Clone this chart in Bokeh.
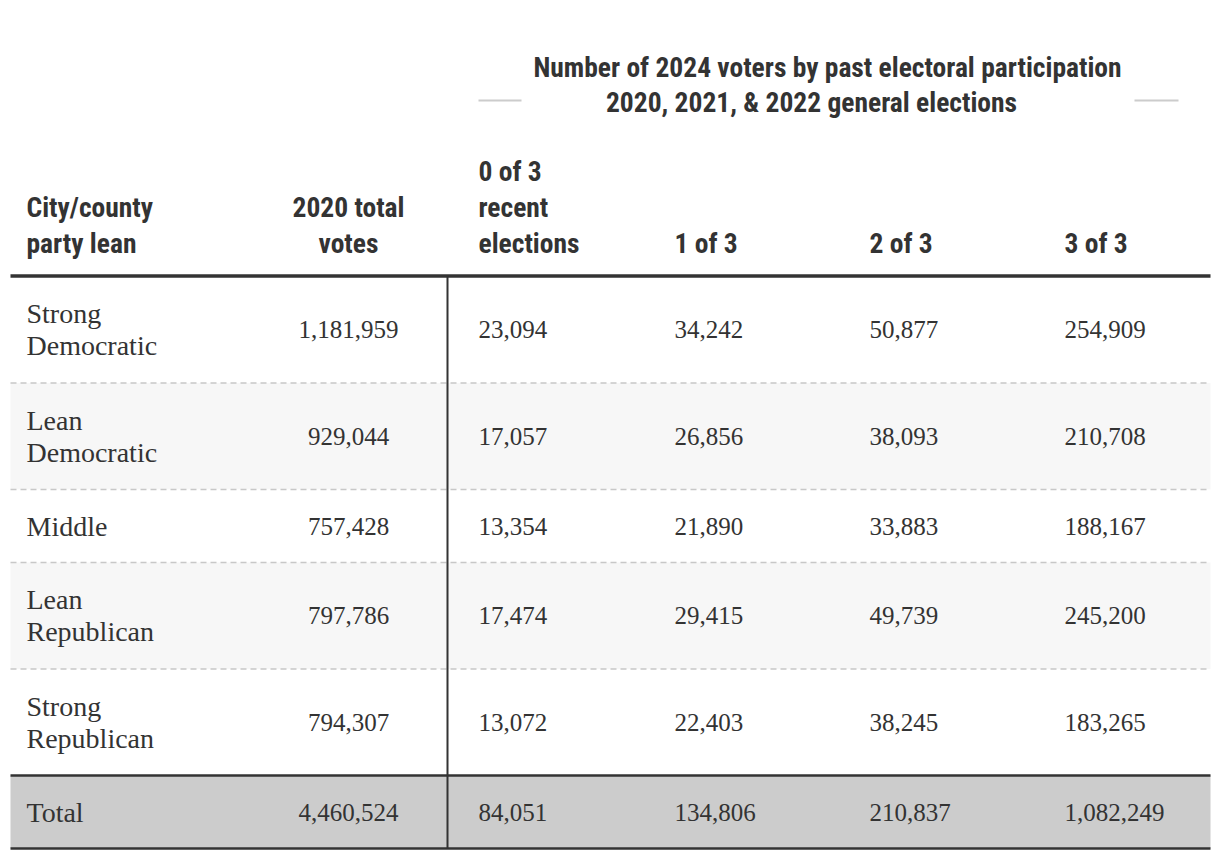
from bokeh.plotting import figure
from bokeh.models import Range1d, ColumnDataSource
from bokeh.core.properties import value
from bokeh.embed import file_html
from bokeh.resources import INLINE

# ---------------- data ----------------
col_headers = [
    ["City/county", "party lean"],
    ["2020 total", "votes"],
    ["0 of 3", "recent", "elections"],
    ["1 of 3"],
    ["2 of 3"],
    ["3 of 3"],
]
group_title = ["Number of 2024 voters by past electoral participation",
               "2020, 2021, & 2022 general elections"]
lean = ["Strong\nDemocratic", "Lean\nDemocratic", "Middle", "Lean\nRepublican", "Strong\nRepublican"]
total_2020 = [1181959, 929044, 757428, 797786, 794307]
of3_0 = [23094, 17057, 13354, 17474, 13072]
of3_1 = [34242, 26856, 21890, 29415, 22403]
of3_2 = [50877, 38093, 33883, 49739, 38245]
of3_3 = [254909, 210708, 188167, 245200, 183265]
total_label = "Total"
totals = [4460524, 84051, 134806, 210837, 1082249]

# ---------------- layout ----------------
W, H = 1212, 852
HEAD_FONT = value("'Roboto Condensed', Roboto, sans-serif")
BODY_FONT = value("'Liberation Serif', serif")
DARK = "#333333"

p = figure(width=W, height=H, x_range=Range1d(0, W), y_range=Range1d(H, 0),
           output_backend="svg", toolbar_location=None, min_border=0,
           outline_line_color=None, background_fill_color="white", border_fill_color="white")
p.axis.visible = False
p.grid.visible = False

L, R = 10, 1210
col_x = [26, 348, 478, 674, 869, 1064]
col_align = ["left", "center", "left", "left", "left", "left"]
vline_x = 447

# rows
rows_text = [[lean[i], total_2020[i], of3_0[i], of3_1[i], of3_2[i], of3_3[i]] for i in range(len(lean))]
rows_text.append([total_label] + totals)
fills = ["#ffffff", "#f7f7f7", "#ffffff", "#f7f7f7", "#ffffff", "#cccccc"]

top = 276.0
bounds = []
for r in rows_text:
    n = len(str(r[0]).split("\n"))
    h = 106.5 if n == 2 else 73
    bounds.append((top, top + h))
    top += h

p.quad(left=[L] * len(bounds), right=[R] * len(bounds),
       top=[b[0] for b in bounds], bottom=[b[1] for b in bounds],
       fill_color=fills, line_color=None)

# dashed separators
for b in bounds[:4]:
    p.line([L, R], [b[1], b[1]], line_color="#c8c8c8", line_width=1.5, line_dash="6 4")

# total row borders
p.line([L, R], [bounds[-1][0], bounds[-1][0]], line_color=DARK, line_width=2.5)
p.line([L, R], [bounds[-1][1], bounds[-1][1]], line_color=DARK, line_width=2.5)
# header rule
p.line([L, R], [275.5, 275.5], line_color=DARK, line_width=3.5)
# vertical rule
p.line([vline_x, vline_x], [276, bounds[-1][1]], line_color=DARK, line_width=2)

# body text
tx, ty, tt, ta, ts = [], [], [], [], []
for r, (t0, t1) in zip(rows_text, bounds):
    cy = (t0 + t1) / 2
    for j, v in enumerate(r):
        s = v if isinstance(v, str) else f"{v:,}"
        lines = s.split("\n")
        for k, ln in enumerate(lines):
            tx.append(col_x[j])
            ty.append(cy + (k - (len(lines) - 1) / 2) * 32)
            tt.append(ln)
            ta.append(col_align[j])
            ts.append("28px" if j == 0 else "25px")
src = ColumnDataSource(dict(x=tx, y=ty, text=tt, align=ta, size=ts))
p.text(x="x", y="y", text="text", text_align="align", source=src, text_baseline="middle",
       text_font=BODY_FONT, text_font_size="size", text_color=DARK)

# header text
hx, hy, ht, ha = [], [], [], []
for j, hdr in enumerate(col_headers):
    n = len(hdr)
    for k, ln in enumerate(hdr):
        hx.append(col_x[j])
        hy.append(243 - 36 * (n - 1 - k))
        ht.append(ln)
        ha.append(col_align[j])
hsrc = ColumnDataSource(dict(x=hx, y=hy, text=ht, align=ha))
p.text(x="x", y="y", text="text", text_align="align", source=hsrc, text_baseline="middle",
       text_font=HEAD_FONT, text_font_style="bold", text_font_size="27.5px", text_color=DARK)

# group title
p.text(x=[827, 811], y=[67, 102], text=group_title, text_align="center", text_baseline="middle",
       text_font=HEAD_FONT, text_font_style="bold", text_font_size="27.5px", text_color=DARK)
p.line([478, 521], [100, 100], line_color="#cccccc", line_width=2)
p.line([1134, 1178], [100, 100], line_color="#cccccc", line_width=2)

open("out.html", "w").write(file_html(p, INLINE))
